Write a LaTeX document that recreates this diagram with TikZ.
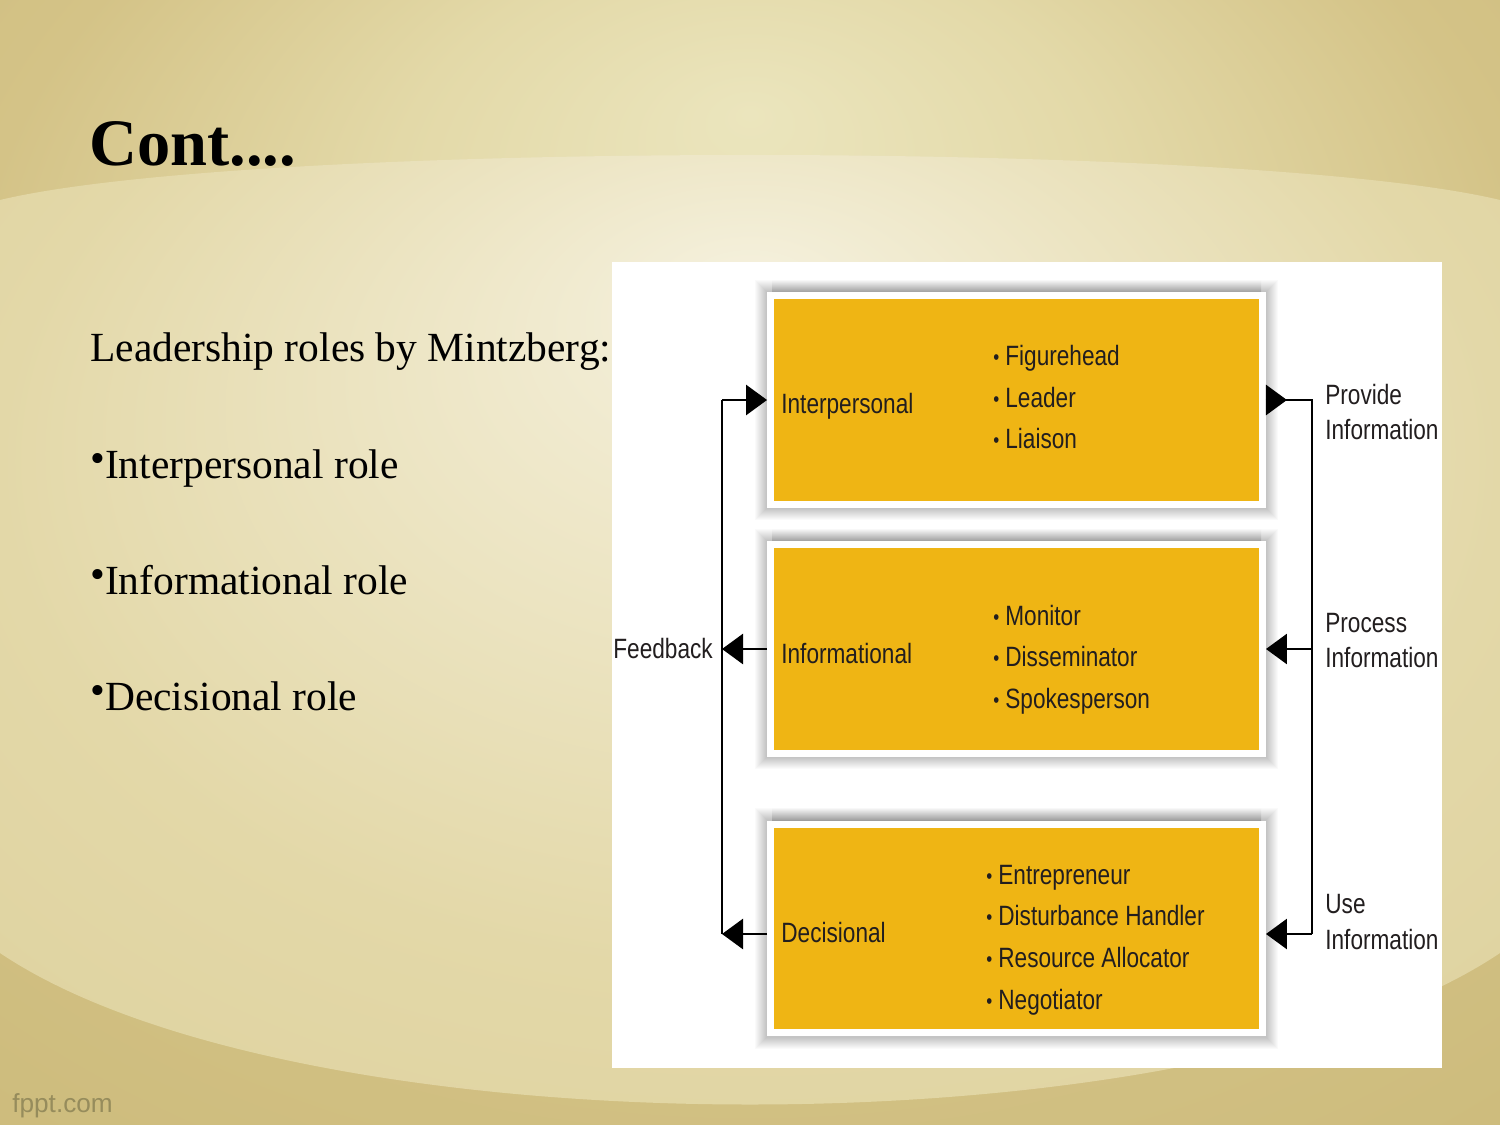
\documentclass[tikz,border=0pt]{standalone}
\usepackage{fontspec}
\setmainfont{Liberation Serif}
\newfontfamily\dfont[FakeStretch=0.81]{Liberation Sans}
\newfontfamily\wfont{Liberation Sans}
\usetikzlibrary{arrows.meta,calc}
\definecolor{roleyellow}{HTML}{EFB514}
\definecolor{ink}{HTML}{221E1F}
\definecolor{bgA}{HTML}{EBE5BD}
\definecolor{bgB}{HTML}{E3D9A8}
\definecolor{bgC}{HTML}{D4C387}
\definecolor{bgD}{HTML}{C6B471}
\definecolor{ltA}{HTML}{F5F1DE}
\definecolor{ltB}{HTML}{EEE7C8}
\definecolor{ltC}{HTML}{E3D8A8}
\definecolor{ltD}{HTML}{D9CC95}
\definecolor{mark}{HTML}{968C5C}
\pgfdeclareradialshading{bgouter}{\pgfpoint{0bp}{20bp}}{color(0bp)=(bgA); color(12bp)=(bgB); color(26bp)=(bgC); color(55bp)=(bgD)}
\pgfdeclareradialshading{bginner}{\pgfpoint{0bp}{18bp}}{color(0bp)=(ltA); color(10bp)=(ltB); color(25bp)=(ltC); color(50bp)=(ltD)}
\newcommand\dbul{{\fontsize{12pt}{12pt}\selectfont\raisebox{0.5pt}{•}}\hspace{0.12cm}}
\newcommand\tbul{{\fontsize{24pt}{24pt}\selectfont\raisebox{3pt}{•}}}
\tikzset{
  rolebox/.style={draw=white, line width=0.14cm, fill=roleyellow,
    minimum width=9.84cm, minimum height=4.18cm, inner sep=0pt},
  dtext/.style={anchor=base west, inner sep=0pt, text=ink, font=\dfont\fontsize{15.9pt}{18pt}\selectfont},
  btext/.style={anchor=base west, inner sep=0pt, text=black, font=\fontsize{23.6pt}{28pt}\selectfont},
  conn/.style={draw=black, line width=0.055cm},
  tri/.style={-{Triangle[length=0.42cm, width=0.6cm]}}
}
\begin{document}
\begin{tikzpicture}[x=0.02cm, y=-0.02cm]
\useasboundingbox (0,0) rectangle (1500,1125);
% background
\shade[shading=bgouter] (0,0) rectangle (1500,1125);
\shade[shading=bginner] (0,200) .. controls (250,140) and (1250,140) .. (1500,200)
  -- (1500,953) .. controls (1200,1155) and (300,1155) .. (0,953) -- cycle;
% watermark
\node[anchor=base west, inner sep=0pt, text=mark, font=\wfont\fontsize{14.9pt}{16pt}\selectfont] (wm) at (12,1112) {fppt.com};
% title and bullets
\node[anchor=base west, inner sep=0pt, font=\fontsize{37.8pt}{44pt}\selectfont\bfseries] (title) at (89,166) {Cont....};
\node[btext] (t0) at (90,361) {Leadership roles by Mintzberg:};
\node[btext] (t1) at (90,478) {\tbul Interpersonal role};
\node[btext] (t2) at (90,594) {\tbul Informational role};
\node[btext] (t3) at (90,710) {\tbul Decisional role};
% white panel
\fill[white] (612,262) rectangle (1442,1068);
% soft shadows round the boxes
\foreach \yt/\yb in {292/508, 541/757, 820/1037}{
  \foreach \k in {1,...,12}{
    \fill[black, opacity=0.018] (767-\k,\yt-\k) rectangle (1266+\k,\yb+\k);
  }
  \shade[top color=white, bottom color=black!38] (772,\yt-13) rectangle (1261,\yt);
}
% boxes
\node[rolebox] (b1) at (1016.5,400) {};
\node[rolebox] (b2) at (1016.5,649) {};
\node[rolebox] (b3) at (1016.5,928.5) {};
% box texts
\node[dtext] (n1) at (781,413) {Interpersonal};
\node[dtext] (n2) at (781,663) {Informational};
\node[dtext] (n3) at (781,942) {Decisional};
\node[dtext] (i11) at (993,365) {\dbul Figurehead};
\node[dtext] (i12) at (993,407) {\dbul Leader};
\node[dtext] (i13) at (993,448) {\dbul Liaison};
\node[dtext] (i21) at (993,625) {\dbul Monitor};
\node[dtext] (i22) at (993,666) {\dbul Disseminator};
\node[dtext] (i23) at (993,708) {\dbul Spokesperson};
\node[dtext] (i31) at (986,884) {\dbul Entrepreneur};
\node[dtext] (i32) at (986,925) {\dbul Disturbance Handler};
\node[dtext] (i33) at (986,967) {\dbul Resource Allocator};
\node[dtext] (i34) at (986,1009) {\dbul Negotiator};
% side labels
\node[dtext] (fb) at (613,658) {Feedback};
\node[dtext] (p1) at (1325,404) {Provide};
\node[dtext] (p2) at (1325,439) {Information};
\node[dtext] (q1) at (1325,632) {Process};
\node[dtext] (q2) at (1325,667) {Information};
\node[dtext] (u1) at (1325,913) {Use};
\node[dtext] (u2) at (1325,949) {Information};
% rail coordinates
\coordinate (lt) at (722,400);
\coordinate (lm) at (722,649);
\coordinate (lb) at (722,934);
\coordinate (rt) at (1312,400);
\coordinate (rm) at (1312,649);
\coordinate (rb) at (1312,934);
% left connectors
\draw[conn] (lb) -- (lt);
\draw[conn, tri] (lt) -- (b1.west);
\draw[conn, tri] (b2.west) -- (lm);
\draw[conn, tri] (b3.west |- lb) -- (lb);
% right connectors
\draw[conn] (b1.east) -- (rt) -- (rb);
\draw[conn, tri] (b1.east) -- ++(21,0);
\draw[conn, tri] (rm) -- (b2.east);
\draw[conn, tri] (rb) -- (b3.east |- rb);
\end{tikzpicture}
\end{document}
